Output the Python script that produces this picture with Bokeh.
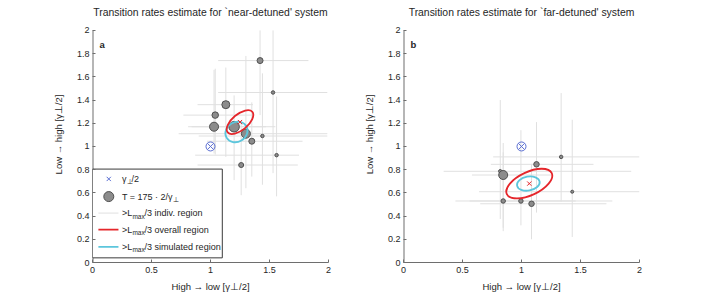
import numpy as np
from bokeh.plotting import figure
from bokeh.layouts import row
from bokeh.models import Range1d, FixedTicker, Label
from bokeh.core.properties import value
from bokeh.embed import file_html
from bokeh.resources import INLINE

# ---------------- data ----------------
x_ticks = [0, 0.5, 1, 1.5, 2]
x_tick_labels = ["0", "0.5", "1", "1.5", "2"]
y_ticks = [0, 0.2, 0.4, 0.6, 0.8, 1.0, 1.2, 1.4, 1.6, 1.8, 2.0]
y_tick_labels = ["0", "0.2", "0.4", "0.6", "0.8", "1", "1.2", "1.4", "1.6", "1.8", "2"]
axis_min, axis_max = 0.0, 2.0

titles = ["Transition rates estimate for `near-detuned' system",
          "Transition rates estimate for `far-detuned' system"]
panel_letters = ["a", "b"]
x_label = "High \u2192 low [\u03b3\u22a5/2]"
y_label = "Low \u2192 high [\u03b3\u22a5/2]"

T_ref = 175.0
gamma_half = (1.0, 1.0)

# near-detuned system
near_x   = [1.42, 1.53, 1.13, 1.04, 1.03, 1.20, 1.30, 1.35, 1.44, 1.56, 1.26]
near_y   = [1.74, 1.465, 1.36, 1.27, 1.17, 1.17, 1.11, 1.045, 1.09, 0.925, 0.84]
near_T   = [63, 21, 112, 74, 142, 193, 142, 63, 21, 21, 44]
near_xlo = [1.065, 1.065, 0.89, 0.77, 0.81, 0.84, 0.73, 0.97, 0.90, 0.87, 0.89]
near_xhi = [1.83, 1.99, 1.36, 1.37, 1.47, 1.55, 1.99, 1.78, 1.99, 1.75, 1.74]
near_ylo = [1.27, 0.77, 0.91, 0.93, 0.94, 0.71, 0.64, 0.74, 0.67, 0.57, 0.58]
near_yhi = [2.0, 2.0, 1.68, 1.67, 1.66, 1.44, 1.78, 1.38, 1.63, 1.43, 1.22]
# ellipse: center x, center y, semi-major, semi-minor, angle (deg)
near_overall   = [1.25, 1.21, 0.136, 0.068, 40]
near_simulated = [1.22, 1.125, 0.097, 0.085, 30]

# far-detuned system
far_x   = [0.82, 0.845, 1.127, 1.336, 1.43, 0.845, 0.995, 1.085]
far_y   = [0.786, 0.754, 0.846, 0.91, 0.61, 0.53, 0.53, 0.506]
far_T   = [21, 142, 53, 21, 16, 35, 35, 53]
far_xlo = [0.34, 0.58, 0.74, 0.76, 0.64, 0.44, 0.56, 0.65]
far_xhi = [1.93, 1.26, 1.61, 2.0, 2.0, 1.46, 1.77, 1.72]
far_ylo = [0.375, 0.27, 0.43, 0.525, 0.22, 0.30, 0.32, 0.20]
far_yhi = [1.40, 1.03, 1.21, 1.46, 1.23, 0.95, 1.14, 0.85]
far_overall   = [1.066, 0.68, 0.21, 0.10, 25]
far_simulated = [1.058, 0.68, 0.097, 0.06, 10]

legend_labels = ["\u03b3", "T = 175 \u00b7 2/\u03b3", ">L", ">L", ">L"]
legend_tails = ["indiv. region", "overall region", "simulated region"]

# ---------------- style ----------------
FONT = "Liberation Sans"
TXT = "#262626"
AXC = "#6e6e6e"
GRAYBAR = "#e0e0e0"
MFILL = "#8c8c8c"
MLINE = "#505050"
RED = "#e5262b"
CYAN = "#5cc6dc"
BLUE = "#5b6fd3"
D_REF = 10.0
FRAME_H = 257          # px of plotting frame (includes room for the title)
AXIS_PX = 233          # px spanned by the 0..2 axis
Y_TOP = axis_max * FRAME_H / AXIS_PX


def msize(T):
    return [D_REF * np.sqrt(t / T_ref) for t in T]


def make_fig(title, letter, w, bl, br, xs, ys, T, xlo, xhi, ylo, yhi, ov, sim):
    p = figure(width=w, height=294, x_range=Range1d(axis_min, axis_max),
               y_range=Range1d(axis_min, Y_TOP),
               output_backend="svg", toolbar_location=None,
               min_border_left=bl, min_border_right=br, min_border_top=6, min_border_bottom=31)
    p.outline_line_color = None
    p.grid.visible = False
    p.background_fill_color = "white"
    p.border_fill_color = "white"

    p.xaxis.ticker = FixedTicker(ticks=x_ticks)
    p.xaxis.major_label_overrides = dict(zip(x_ticks, x_tick_labels))
    p.yaxis.ticker = FixedTicker(ticks=y_ticks)
    p.yaxis.major_label_overrides = dict(zip(y_ticks, y_tick_labels))
    for ax in (p.xaxis, p.yaxis):
        ax.axis_line_color = AXC
        ax.major_tick_line_color = AXC
        ax.major_tick_in = 3
        ax.major_tick_out = 0
        ax.minor_tick_line_color = None
        ax.major_label_text_font = FONT
        ax.major_label_text_font_size = "9px"
        ax.major_label_text_color = TXT
        ax.axis_label_text_font = FONT
        ax.axis_label_text_font_size = "9.5px"
        ax.axis_label_text_font_style = "normal"
        ax.axis_label_text_color = TXT
    p.yaxis.axis_line_color = None
    p.xaxis.axis_label = x_label
    p.yaxis.axis_label = y_label
    p.xaxis.major_label_standoff = 4
    p.xaxis.axis_label_standoff = 5
    p.yaxis.major_label_standoff = 3
    p.yaxis.axis_label_standoff = 10

    # y axis spine only over 0..2
    p.segment(x0=[axis_min], y0=[axis_min], x1=[axis_min], y1=[axis_max],
              line_color=AXC, line_width=2)

    # title
    p.text(x=[(axis_min + axis_max) / 2], y=[axis_max], text=[title], y_offset=-18,
           text_font=value(FONT), text_font_size="10.4px", text_color=TXT,
           text_align="center", text_baseline="middle")

    # error bars (individual regions)
    p.segment(x0=xlo, y0=ys, x1=xhi, y1=ys, line_color=GRAYBAR, line_width=1)
    p.segment(x0=xs, y0=ylo, x1=xs, y1=yhi, line_color=GRAYBAR, line_width=1)

    # markers
    p.scatter(x=xs, y=ys, size=msize(T), marker="circle", fill_color=MFILL,
              line_color=MLINE, line_width=1)

    # regions
    p.ellipse(x=[sim[0]], y=[sim[1]], width=[2 * sim[2]], height=[2 * sim[3]],
              angle=[sim[4]], angle_units="deg", fill_color=None, line_color=CYAN, line_width=1.8)
    p.ellipse(x=[ov[0]], y=[ov[1]], width=[2 * ov[2]], height=[2 * ov[3]],
              angle=[ov[4]], angle_units="deg", fill_color=None, line_color=RED, line_width=1.8)
    p.scatter(x=[ov[0]], y=[ov[1]], marker="x", size=6, line_color=RED, line_width=1)

    # gamma/2 point
    p.scatter(x=[gamma_half[0]], y=[gamma_half[1]], marker="circle_x", size=9,
              fill_color=None, line_color=BLUE, line_width=1)

    p.add_layout(Label(x=0.06, y=1.88, text=letter, text_font=FONT, text_font_size="9.5px",
                       text_font_style="bold", text_color=TXT, text_baseline="middle"))
    return p


p1 = make_fig(titles[0], panel_letters[0], 353, 92, 25, near_x, near_y, near_T,
              near_xlo, near_xhi, near_ylo, near_yhi, near_overall, near_simulated)
p2 = make_fig(titles[1], panel_letters[1], 345, 50, 59, far_x, far_y, far_T,
              far_xlo, far_xhi, far_ylo, far_yhi, far_overall, far_simulated)

# ---------------- manual legend (panel a) ----------------
p1.quad(left=[0.0], right=[1.10], bottom=[0.04], top=[0.805], fill_color="white",
        line_color="#3a3a3a", line_width=1)
ly = [0.72, 0.568, 0.426, 0.283, 0.135]
mx = 0.138
tx = 0.25
p1.scatter(x=[mx], y=[ly[0]], marker="x", size=6, line_color=BLUE, line_width=1)
p1.scatter(x=[mx], y=[ly[1]], marker="circle", size=D_REF, fill_color=MFILL, line_color=MLINE, line_width=1)
p1.segment(x0=[0.05] * 3, x1=[0.22] * 3, y0=ly[2:], y1=ly[2:],
           line_color=[GRAYBAR, RED, CYAN], line_width=[1, 1.8, 1.8])

FS = "9px"
SFS = "6.5px"
common = dict(text_font=value(FONT), text_color=TXT, text_baseline="middle", text_align="left")
# entry 1: gamma_perp / 2
p1.text(x=[tx], y=[ly[0]], text=[legend_labels[0]], text_font_size=FS, **common)
p1.text(x=[tx], y=[ly[0]], text=["\u22a5"], text_font_size=SFS, x_offset=4.5, y_offset=3, **common)
p1.text(x=[tx], y=[ly[0]], text=["/2"], text_font_size=FS, x_offset=9.5, **common)
# entry 2
p1.text(x=[tx], y=[ly[1]], text=[legend_labels[1]], text_font_size=FS, **common)
p1.text(x=[tx], y=[ly[1]], text=["\u22a5"], text_font_size=SFS, x_offset=50.5, y_offset=3, **common)
# entries 3-5
for yy, lab, tail in zip(ly[2:], legend_labels[2:], legend_tails):
    p1.text(x=[tx], y=[yy], text=[lab], text_font_size=FS, **common)
    p1.text(x=[tx], y=[yy], text=["max"], text_font_size=SFS, x_offset=10.4, y_offset=3, **common)
    p1.text(x=[tx], y=[yy], text=["/3 " + tail], text_font_size=FS, x_offset=22.6, **common)

layout = row(p1, p2)
open("out.html", "w").write(file_html(layout, INLINE))
